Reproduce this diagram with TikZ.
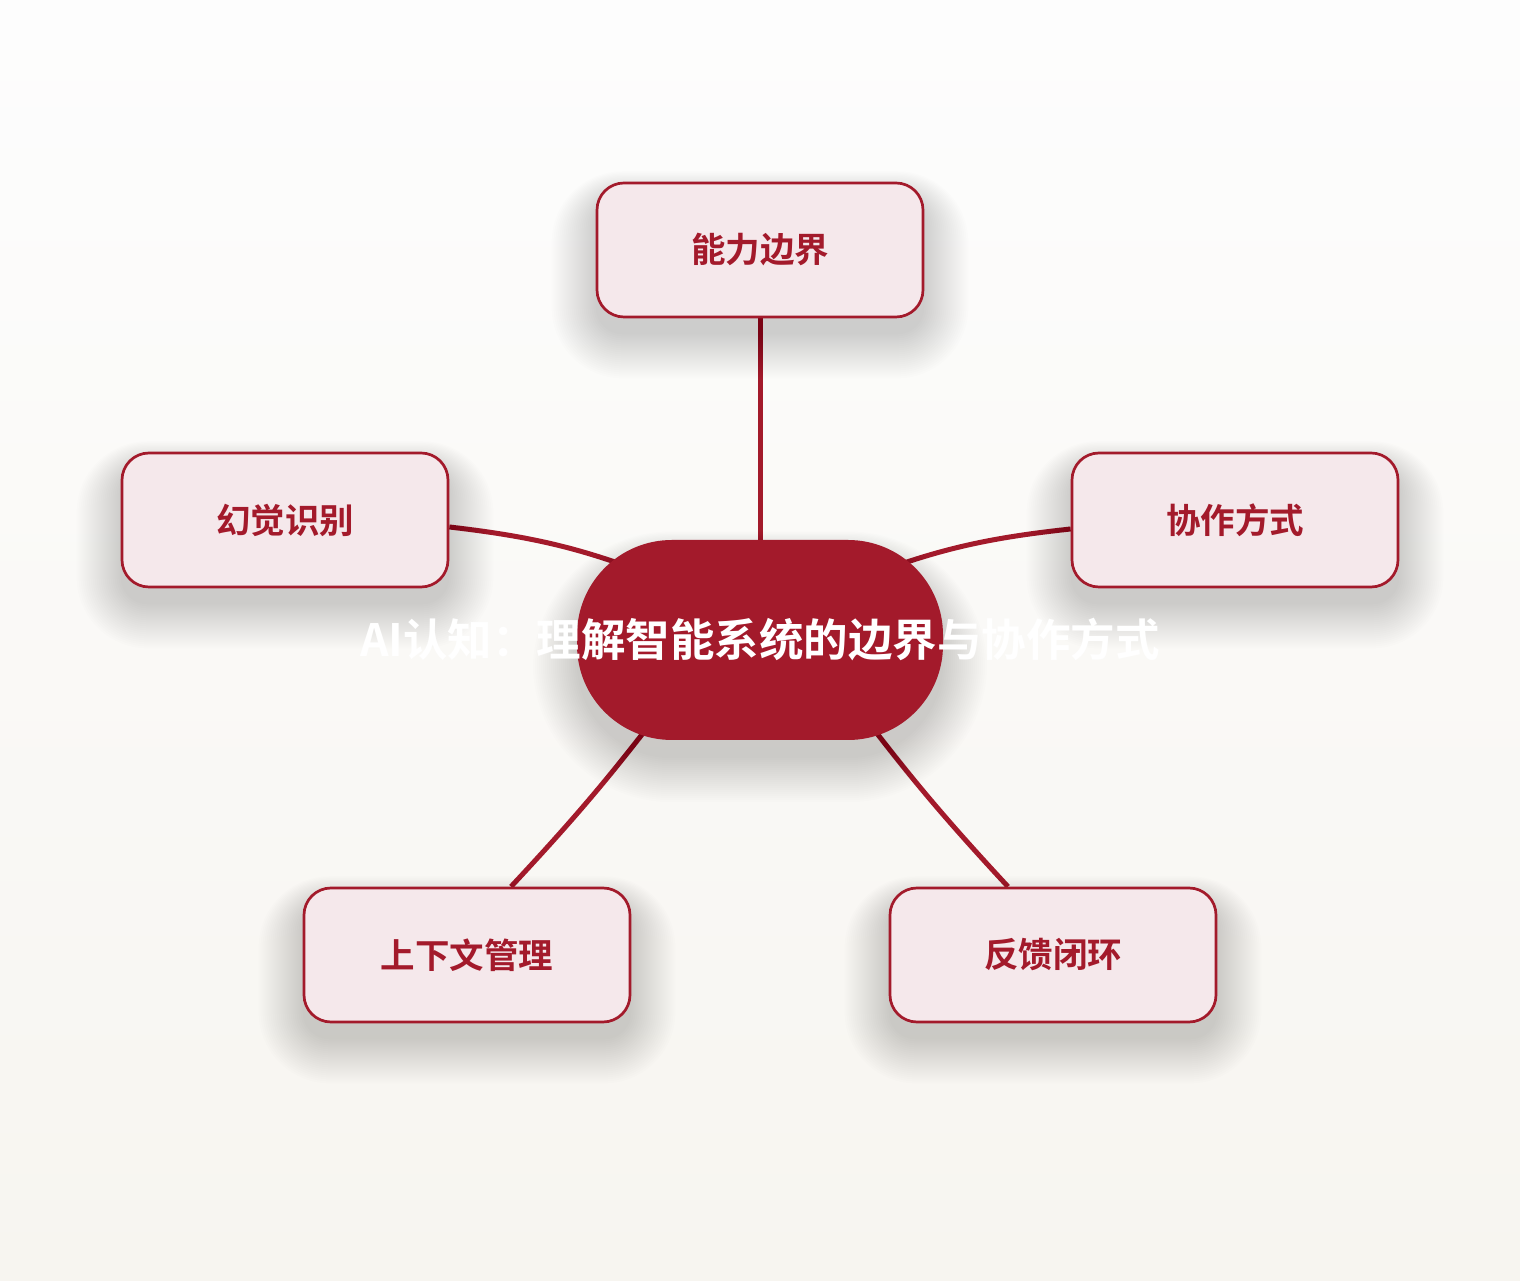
\documentclass[tikz,border=0pt]{standalone}
\usepackage{fontspec}
\newfontfamily\cjk[BoldFont=Noto Sans CJK SC Bold]{Noto Sans CJK SC}
\definecolor{brick}{HTML}{A31A2B}
\definecolor{blush}{HTML}{F5E8EB}
\definecolor{paperTop}{HTML}{FDFDFD}
\definecolor{paperBot}{HTML}{F7F5F0}
\pgfdeclarelayer{backdrop}
\pgfdeclarelayer{links}
\pgfdeclarelayer{shades}
\pgfsetlayers{backdrop,links,shades,main}

\begin{document}
\begin{tikzpicture}[x=1pt,y=1pt,
    topic/.style={draw=brick,line width=2.7pt,fill=blush,rounded corners=27pt,
        minimum width=326pt,minimum height=134pt,text=brick,
        font=\cjk\bfseries\fontsize{34.5}{40}\selectfont},
    hub/.style={fill=brick,rounded corners=95pt,inner xsep=18pt,minimum height=200pt,text=white,
        font=\cjk\bfseries\fontsize{44.5}{52}\selectfont},
    link/.style={draw=brick,line width=5pt},
    haze/.style={fill=black,fill opacity=0.009}]
\useasboundingbox (0,0) rectangle (1520,1280);
\begin{pgfonlayer}{backdrop}
\shade[top color=paperTop,bottom color=paperBot] (0,0) rectangle (1520,1280);
\end{pgfonlayer}
\node[hub] (core) at (760,640) {\makebox[330pt]{AI认知：理解智能系统的边界与协作方式}};
\node[topic] (cap) at (760,1030) {能力边界};
\node[topic] (hall) at (285,760) {幻觉识别};
\node[topic] (collab) at (1235,760) {协作方式};
\node[topic] (ctx) at (467,325) {上下文管理};
\node[topic] (loop) at (1053,325) {反馈闭环};
\begin{pgfonlayer}{links}
\draw[link] (cap.south) -- (core.north);
\draw[link] ([yshift=-7pt]hall.east) to[bend left=8] ([shift={(-80,53)}]core.center);
\draw[link] ([yshift=-9pt]collab.west) to[bend right=8] ([shift={(80,53)}]core.center);
\draw[link] ([xshift=44pt]ctx.north) to[bend right=3] ([shift={(-84,-50)}]core.center);
\draw[link] ([xshift=-45pt]loop.north) to[bend left=3] ([shift={(84,-50)}]core.center);
\end{pgfonlayer}
% soft shadows
\begin{pgfonlayer}{shades}
\foreach \n in {cap,hall,collab,ctx,loop}
  \foreach \k in {0,...,22}{
    \pgfmathsetmacro\r{27+\k*2}
    \fill[haze,rounded corners=\r pt] ([shift={(-\k*2,-16-\k*2)}]\n.south west)
      rectangle ([shift={(\k*2,-16+\k*1.2)}]\n.north east);
  }
\foreach \k in {0,...,22}{
  \pgfmathsetmacro\r{95+\k*2}
  \fill[haze,rounded corners=\r pt] ([shift={(-\k*2,-18-\k*2)}]core.south west)
    rectangle ([shift={(\k*2,-18+\k*1.2)}]core.north east);
}
\end{pgfonlayer}
\end{tikzpicture}
\end{document}
